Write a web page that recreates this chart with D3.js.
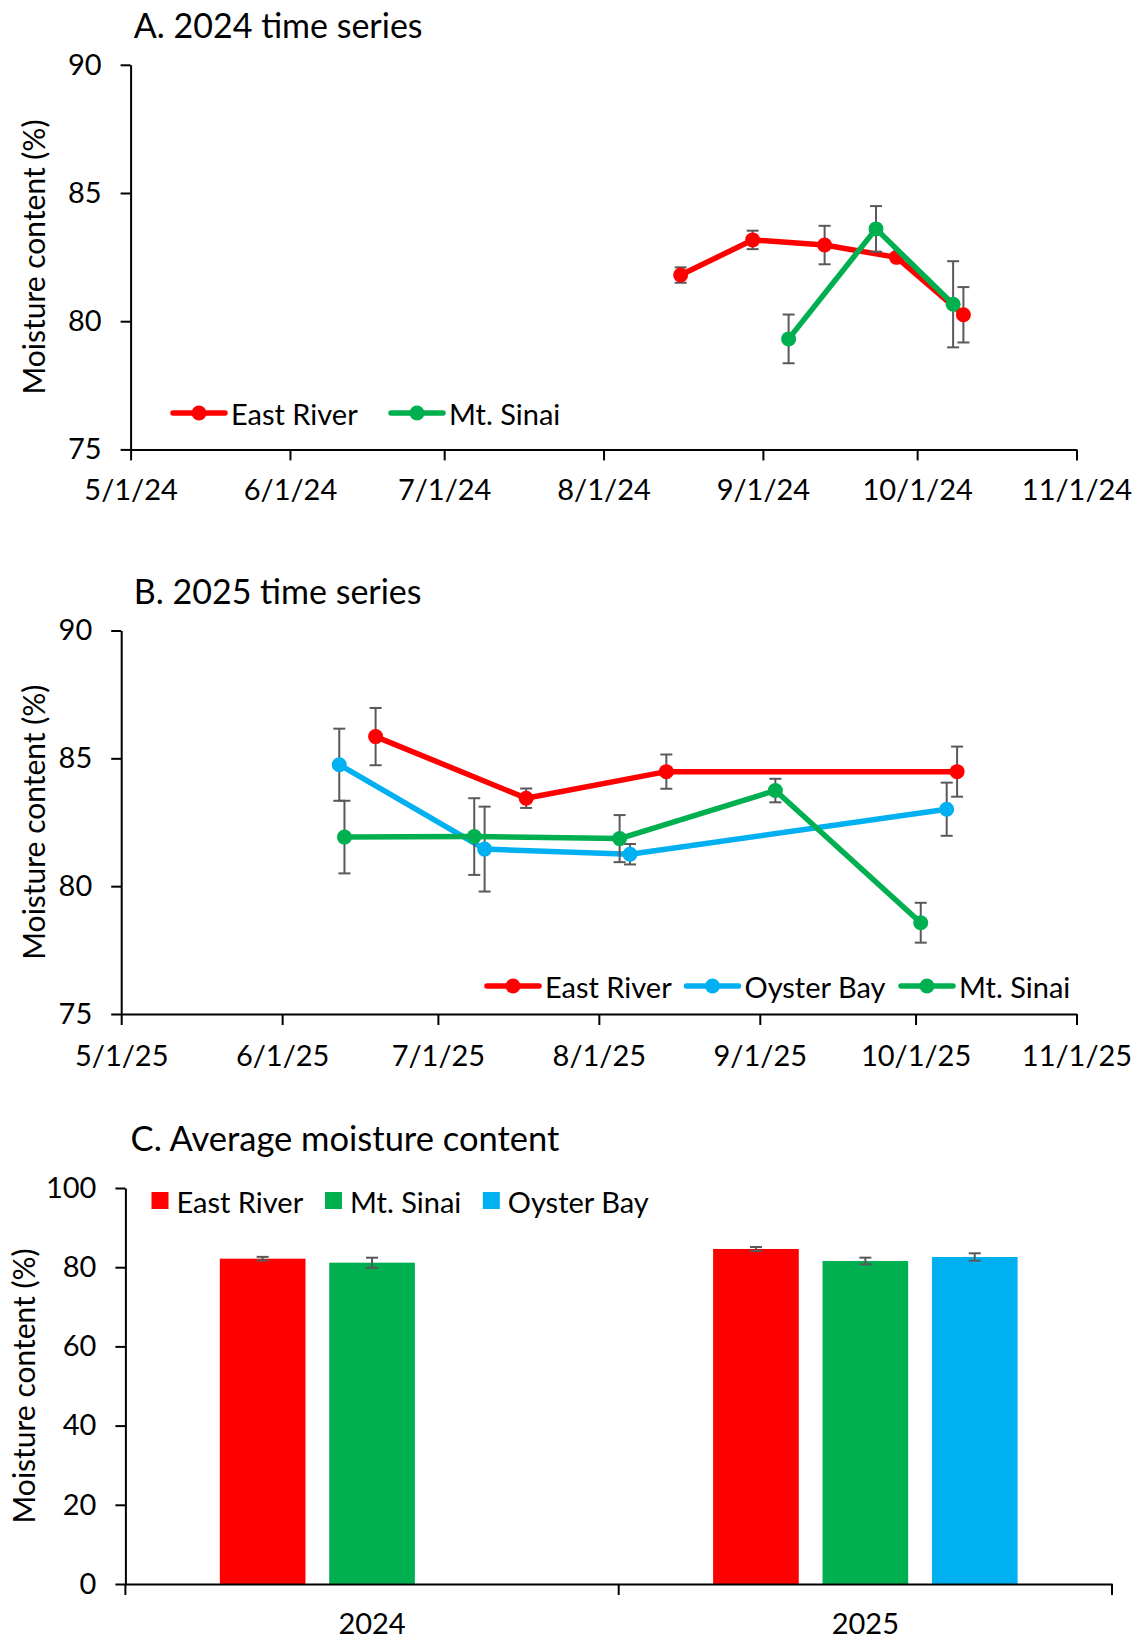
<!DOCTYPE html>
<html>
<head>
<meta charset="utf-8">
<script src="https://cdn.jsdelivr.net/npm/d3@7"></script>
<style>
  body { margin: 0; background: #fff; }
  svg { display: block; }
  text { font-family: Lato, "Open Sans", sans-serif; fill: #000; }
</style>
</head>
<body>
<svg id="chart" width="1135" height="1639"></svg>
<script>
// ---------- data ----------
const sites = ["East River", "Mt. Sinai", "Oyster Bay"];
const siteColors = ["#FF0000", "#00B050", "#00B0F0"];

// 2024 sampling dates, mean moisture (%) and error
const er2024Dates  = ["2024-08-16", "2024-08-30", "2024-09-13", "2024-09-27", "2024-10-10"];
const er2024Values = [81.8, 83.17, 82.97, 82.49, 80.25];
const er2024Errors = [0.3, 0.36, 0.75, 0.15, 1.08];

const ms2024Dates  = ["2024-09-06", "2024-09-23", "2024-10-08"];
const ms2024Values = [79.31, 83.6, 80.66];
const ms2024Errors = [0.95, 0.89, 1.68];

// 2025 sampling dates, mean moisture (%) and error
const er2025Dates  = ["2025-06-19", "2025-07-18", "2025-08-14", "2025-10-09"];
const er2025Values = [85.85, 83.44, 84.48, 84.48];
const er2025Errors = [1.12, 0.38, 0.67, 0.98];

const ob2025Dates  = ["2025-06-12", "2025-07-10", "2025-08-07", "2025-10-07"];
const ob2025Values = [84.75, 81.45, 81.25, 83.01];
const ob2025Errors = [1.41, 1.66, 0.4, 1.04];

const ms2025Dates  = ["2025-06-13", "2025-07-08", "2025-08-05", "2025-09-04", "2025-10-02"];
const ms2025Values = [81.92, 81.94, 81.86, 83.74, 78.57];
const ms2025Errors = [1.42, 1.5, 0.92, 0.46, 0.78];

// seasonal averages
const years = ["2024", "2025"];
const avgEastRiver = [82.15, 84.6];
const avgMtSinai   = [81.14, 81.57];
const avgOysterBay = [null, 82.58];
const errEastRiver = [0.46, 0.5];
const errMtSinai   = [1.26, 0.84];
const errOysterBay = [null, 0.93];

const yTicksTime = [75, 80, 85, 90];
const yTicksBar  = [0, 20, 40, 60, 80, 100];

// ---------- helpers ----------
const parse = d3.timeParse("%Y-%m-%d");
const fmtDate = d3.timeFormat("%-m/%-d/%y");
const svg = d3.select("#chart");
const ERR_COLOR = "#595959";

function series(name, color, dates, values, errors) {
  return { name, color, pts: dates.map((d, i) => ({ date: parse(d), v: values[i], e: errors[i] })) };
}

function styleAxis(g) {
  g.selectAll("path.domain").attr("stroke", "#000").attr("stroke-width", 2);
  g.selectAll(".tick line").attr("stroke", "#000").attr("stroke-width", 2);
  g.selectAll(".tick text").style("font-size", "29px").attr("fill", "#000");
}

function timePanel(cfg) {
  const g = svg.append("g");
  const x = d3.scaleTime().domain([parse(cfg.start), parse(cfg.end)]).range([cfg.left, cfg.right]);
  const y = d3.scaleLinear().domain([75, 90]).range([cfg.bottom, cfg.top]);

  g.append("text").attr("x", 133.8).attr("y", cfg.titleY)
    .style("font-size", "34px").text(cfg.title);

  g.append("text")
    .attr("transform", `translate(${cfg.yTitleX},${(cfg.top + cfg.bottom) / 2}) rotate(-90)`)
    .attr("text-anchor", "middle").attr("dominant-baseline", "central")
    .style("font-size", "30px").text("Moisture content (%)");

  const xa = g.append("g").attr("transform", `translate(0,${cfg.bottom})`)
    .call(d3.axisBottom(x).ticks(d3.timeMonth.every(1)).tickFormat(fmtDate)
      .tickSize(11).tickSizeOuter(0).tickPadding(cfg.xPad));
  styleAxis(xa);

  const ya = g.append("g").attr("transform", `translate(${cfg.left},0)`)
    .call(d3.axisLeft(y).tickValues(yTicksTime).tickSize(10).tickSizeOuter(0).tickPadding(19));
  styleAxis(ya);

  const line = d3.line().x(d => x(d.date)).y(d => y(d.v));
  cfg.series.forEach(s => {
    const sg = g.append("g");
    // error bars
    const eb = sg.selectAll("g.err").data(s.pts.filter(p => p.e > 0)).join("g")
      .attr("stroke", ERR_COLOR).attr("stroke-width", 2);
    eb.append("line").attr("x1", d => x(d.date)).attr("x2", d => x(d.date))
      .attr("y1", d => y(d.v - d.e)).attr("y2", d => y(d.v + d.e));
    eb.append("line").attr("x1", d => x(d.date) - 6).attr("x2", d => x(d.date) + 6)
      .attr("y1", d => y(d.v - d.e)).attr("y2", d => y(d.v - d.e));
    eb.append("line").attr("x1", d => x(d.date) - 6).attr("x2", d => x(d.date) + 6)
      .attr("y1", d => y(d.v + d.e)).attr("y2", d => y(d.v + d.e));
    sg.append("path").datum(s.pts).attr("d", line)
      .attr("fill", "none").attr("stroke", s.color).attr("stroke-width", 5.5)
      .attr("stroke-linejoin", "round");
    sg.selectAll("circle").data(s.pts).join("circle")
      .attr("cx", d => x(d.date)).attr("cy", d => y(d.v)).attr("r", 7.5).attr("fill", s.color);
  });

  // legend
  const lg = g.append("g");
  cfg.legend.forEach(it => {
    const s = cfg.series.find(d => d.name === it.name);
    lg.append("line").attr("x1", it.x).attr("x2", it.x + 52).attr("y1", cfg.legendY).attr("y2", cfg.legendY)
      .attr("stroke", s.color).attr("stroke-width", 5.5).attr("stroke-linecap", "round");
    lg.append("circle").attr("cx", it.x + 26).attr("cy", cfg.legendY).attr("r", 7.5).attr("fill", s.color);
    lg.append("text").attr("x", it.x + 58).attr("y", cfg.legendY).attr("dominant-baseline", "central")
      .style("font-size", "29px").text(it.name);
  });
}

// ---------- panel A ----------
timePanel({
  title: "A. 2024 time series", titleY: 38,
  start: "2024-05-01", end: "2024-11-01",
  left: 130.6, right: 1076.5, top: 64.8, bottom: 449.4,
  yTitleX: 33, xPad: 19,
  series: [
    series("East River", siteColors[0], er2024Dates, er2024Values, er2024Errors),
    series("Mt. Sinai", siteColors[1], ms2024Dates, ms2024Values, ms2024Errors)
  ],
  legendY: 413,
  legend: [{ name: "East River", x: 173 }, { name: "Mt. Sinai", x: 391 }]
});

// ---------- panel B ----------
timePanel({
  title: "B. 2025 time series", titleY: 604,
  start: "2025-05-01", end: "2025-11-01",
  left: 121.2, right: 1076.5, top: 630.5, bottom: 1014,
  yTitleX: 33, xPad: 20,
  series: [
    series("East River", siteColors[0], er2025Dates, er2025Values, er2025Errors),
    series("Oyster Bay", siteColors[2], ob2025Dates, ob2025Values, ob2025Errors),
    series("Mt. Sinai", siteColors[1], ms2025Dates, ms2025Values, ms2025Errors)
  ],
  legendY: 986,
  legend: [{ name: "East River", x: 487 }, { name: "Oyster Bay", x: 686.5 }, { name: "Mt. Sinai", x: 901 }]
});

// ---------- panel C ----------
(function () {
  const left = 125.4, right = 1112, top = 1188, bottom = 1584;
  const g = svg.append("g");
  const x0 = d3.scaleBand().domain(years).range([left, right]);
  const x1 = d3.scaleBand().domain(sites).range([-164.1, 164.1]).paddingInner(0.217).paddingOuter(0.1085);
  const y = d3.scaleLinear().domain([0, 100]).range([bottom, top]);

  g.append("text").attr("x", 130.6).attr("y", 1151).style("font-size", "34.5px")
    .text("C. Average moisture content");
  g.append("text")
    .attr("transform", `translate(23,1386) rotate(-90)`)
    .attr("text-anchor", "middle").attr("dominant-baseline", "central")
    .style("font-size", "30px").text("Moisture content (%)");

  const avgs = [avgEastRiver, avgMtSinai, avgOysterBay];
  const errs = [errEastRiver, errMtSinai, errOysterBay];
  const bars = [];
  years.forEach((yr, i) => sites.forEach((s, j) => {
    if (avgs[j][i] != null) bars.push({ year: yr, site: s, color: siteColors[j], v: avgs[j][i], e: errs[j][i] });
  }));

  const cx = d => x0(d.year) + x0.bandwidth() / 2 + x1(d.site);
  g.selectAll("rect.bar").data(bars).join("rect")
    .attr("x", cx).attr("width", x1.bandwidth())
    .attr("y", d => y(d.v)).attr("height", d => y(0) - y(d.v)).attr("fill", d => d.color);

  const eb = g.selectAll("g.err").data(bars).join("g").attr("stroke", ERR_COLOR).attr("stroke-width", 2);
  const mid = d => cx(d) + x1.bandwidth() / 2;
  eb.append("line").attr("x1", mid).attr("x2", mid).attr("y1", d => y(d.v - d.e)).attr("y2", d => y(d.v + d.e));
  eb.append("line").attr("x1", d => mid(d) - 6).attr("x2", d => mid(d) + 6).attr("y1", d => y(d.v - d.e)).attr("y2", d => y(d.v - d.e));
  eb.append("line").attr("x1", d => mid(d) - 6).attr("x2", d => mid(d) + 6).attr("y1", d => y(d.v + d.e)).attr("y2", d => y(d.v + d.e));

  const ya = g.append("g").attr("transform", `translate(${left},0)`)
    .call(d3.axisLeft(y).tickValues(yTicksBar).tickSize(10).tickSizeOuter(0).tickPadding(19));
  styleAxis(ya);

  const xa = g.append("g").attr("transform", `translate(0,${bottom})`)
    .call(d3.axisBottom(x0).tickSize(0).tickSizeOuter(0).tickPadding(29));
  styleAxis(xa);
  // category boundary ticks
  const bounds = years.map(yr => x0(yr)).concat([x0.range()[1]]);
  xa.selectAll("line.bound").data(bounds).join("line").attr("class", "bound")
    .attr("x1", d => d).attr("x2", d => d).attr("y1", 0).attr("y2", 11)
    .attr("stroke", "#000").attr("stroke-width", 2);

  // legend
  const lx = [151.5, 325, 482.8];
  sites.forEach((s, j) => {
    g.append("rect").attr("x", lx[j]).attr("y", 1192).attr("width", 17).attr("height", 17).attr("fill", siteColors[j]);
    g.append("text").attr("x", lx[j] + 25).attr("y", 1201).attr("dominant-baseline", "central")
      .style("font-size", "29px").text(s);
  });
})();
</script>
</body>
</html>
